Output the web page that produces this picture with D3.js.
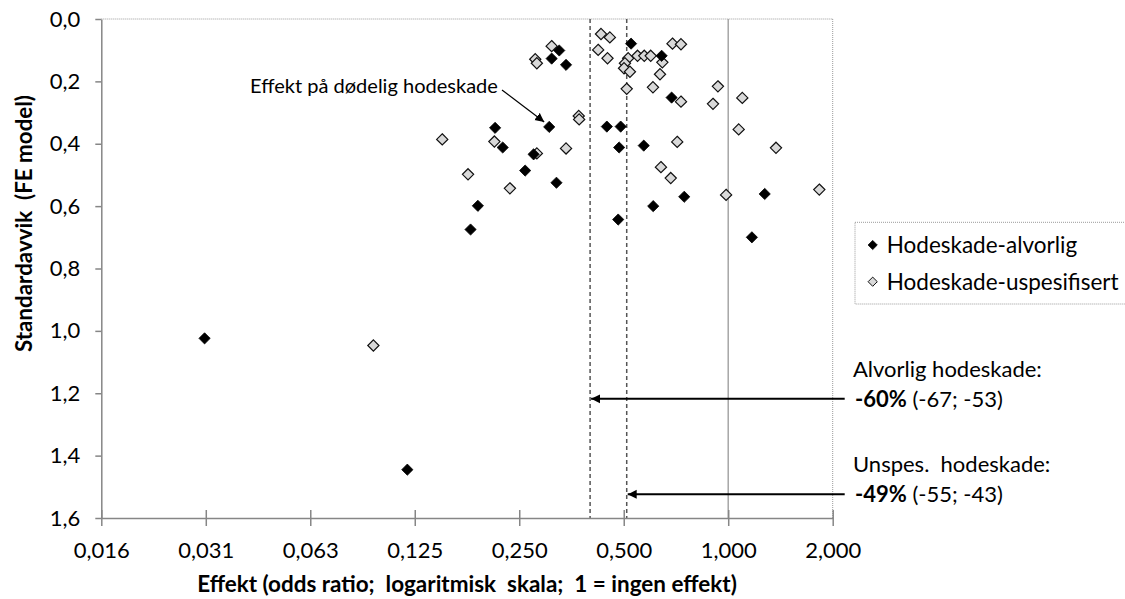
<!DOCTYPE html>
<html>
<head>
<meta charset="utf-8">
<script src="https://cdn.jsdelivr.net/npm/d3@7"></script>
<style>
  body { margin: 0; background: #fff; }
  text { font-family: Lato, "Open Sans", sans-serif; fill: #000; white-space: pre; }
</style>
</head>
<body>
<svg id="chart" width="1125" height="599"></svg>
<script>
// Funnel plot: odds ratio (log2 scale) against standard error, two injury categories.

// Hodeskade-alvorlig: odds ratio and standard error per study
const alvorligOR = [0.031, 0.119, 0.326, 0.310, 0.341, 0.213, 0.305, 0.224, 0.275, 0.260,
                    0.320, 0.190, 0.181, 0.525, 0.643, 0.687, 0.447, 0.490, 0.485, 0.571,
                    0.747, 1.274, 0.608, 0.482, 1.170];
const alvorligSE = [1.024, 1.445, 0.101, 0.127, 0.147, 0.349, 0.346, 0.412, 0.434, 0.486,
                    0.525, 0.599, 0.675, 0.079, 0.118, 0.252, 0.345, 0.345, 0.412, 0.406,
                    0.570, 0.561, 0.600, 0.643, 0.700];

// Hodeskade-uspesifisert: odds ratio and standard error per study
const uspesOR = [0.095, 0.310, 0.278, 0.281, 0.150, 0.212, 0.281, 0.341, 0.371, 0.372,
                 0.178, 0.235, 0.430, 0.456, 0.691, 0.731, 0.422, 0.449, 0.515, 0.504,
                 0.501, 0.521, 0.548, 0.573, 0.598, 0.646, 0.636, 0.510, 0.607, 0.934,
                 0.731, 0.904, 1.098, 1.072, 0.713, 1.373, 0.640, 0.683, 0.986, 1.830];
const uspesSE = [1.047, 0.087, 0.129, 0.142, 0.386, 0.393, 0.431, 0.415, 0.311, 0.322,
                 0.498, 0.543, 0.048, 0.059, 0.079, 0.081, 0.099, 0.126, 0.126, 0.142,
                 0.158, 0.169, 0.118, 0.118, 0.118, 0.139, 0.177, 0.224, 0.219, 0.216,
                 0.265, 0.272, 0.253, 0.354, 0.394, 0.413, 0.475, 0.510, 0.564, 0.547];

// Axis ticks
const xTickValues = [1/64, 1/32, 1/16, 1/8, 1/4, 1/2, 1, 2];
const xTickLabels = ["0,016", "0,031", "0,063", "0,125", "0,250", "0,500", "1,000", "2,000"];
const yTickValues = [0, 0.2, 0.4, 0.6, 0.8, 1.0, 1.2, 1.4, 1.6];
const yTickLabels = ["0,0", "0,2", "0,4", "0,6", "0,8", "1,0", "1,2", "1,4", "1,6"];

// Pooled estimates (odds ratio) and where their arrows sit on the SE axis
const pooledNames = ["Alvorlig hodeskade:", "Unspes.  hodeskade:"];
const pooledOR = [0.40, 0.51];
const pooledPct = ["-60%", "-49%"];
const pooledCI = [" (-67; -53)", " (-55; -43)"];
const pooledArrowSE = [1.218, 1.524];

const seriesNames = ["Hodeskade-alvorlig", "Hodeskade-uspesifisert"];

const svg = d3.select("#chart");
const W = 1125, H = 599;
svg.append("rect").attr("width", W).attr("height", H).attr("fill", "#fff");

const plot = { left: 101.3, right: 832.7, top: 19, bottom: 518 };

const x = d3.scaleLog().base(2).domain([1/64, 2]).range([plot.left, plot.right]);
const y = d3.scaleLinear().domain([0, 1.6]).range([plot.top, plot.bottom]);

// Scale a text element's font so its rendered run has the wanted width
function fitWidth(sel, width) {
  const node = sel.node();
  const size = parseFloat(sel.attr("font-size"));
  const len = node.getComputedTextLength();
  if (len > 0) sel.attr("font-size", (size * width / len).toFixed(2));
  return sel;
}

// Plot frame: dotted top and right edges
svg.append("line")
  .attr("x1", plot.left).attr("x2", plot.right).attr("y1", plot.top).attr("y2", plot.top)
  .attr("stroke", "#9a9a9a").attr("stroke-width", 1).attr("stroke-dasharray", "1,1");
svg.append("line")
  .attr("x1", plot.right).attr("x2", plot.right).attr("y1", plot.top).attr("y2", plot.bottom)
  .attr("stroke", "#9a9a9a").attr("stroke-width", 1).attr("stroke-dasharray", "1,1");

// Reference line at OR = 1 (no effect)
svg.append("line")
  .attr("x1", x(1)).attr("x2", x(1)).attr("y1", y(0)).attr("y2", y(1.6))
  .attr("stroke", "#a6a6a6").attr("stroke-width", 1.5);

// Pooled estimates as dashed vertical lines
svg.selectAll(".pooled").data(pooledOR).join("line")
  .attr("class", "pooled")
  .attr("x1", d => x(d)).attr("x2", d => x(d))
  .attr("y1", y(0)).attr("y2", y(1.6))
  .attr("stroke", "#555").attr("stroke-width", 1.5).attr("stroke-dasharray", "4,3");

// Axes
const xAxis = d3.axisBottom(x)
  .tickValues(xTickValues)
  .tickFormat((d, i) => xTickLabels[i])
  .tickSizeInner(8).tickSizeOuter(0).tickPadding(16);
const gx = svg.append("g").attr("transform", `translate(0,${plot.bottom})`).call(xAxis);
gx.selectAll(".tick line").attr("y1", -8).attr("y2", 8).attr("stroke", "#868686").attr("stroke-width", 1.5);
gx.select(".domain").attr("stroke", "#868686").attr("stroke-width", 1.5);
gx.selectAll(".tick text").attr("font-size", 22).attr("font-family", "Lato").attr("fill", "#000");

const yAxis = d3.axisLeft(y)
  .tickValues(yTickValues)
  .tickFormat((d, i) => yTickLabels[i])
  .tickSizeInner(6).tickSizeOuter(0).tickPadding(15);
const gy = svg.append("g").attr("transform", `translate(${plot.left},0)`).call(yAxis);
gy.selectAll(".tick line").attr("stroke", "#868686").attr("stroke-width", 1.5);
gy.select(".domain").attr("stroke", "#868686").attr("stroke-width", 1.5);
gy.selectAll(".tick text").attr("font-size", 22).attr("font-family", "Lato").attr("fill", "#000");

// Axis titles
const xTitle = svg.append("text")
  .attr("x", (plot.left + plot.right) / 2).attr("y", 592)
  .attr("text-anchor", "middle").attr("font-size", 22).attr("font-weight", "bold")
  .text("Effekt (odds ratio;  logaritmisk  skala;  1 = ingen effekt)");
fitWidth(xTitle, 540);
const yTitle = svg.append("text")
  .attr("transform", "translate(32,223.5) rotate(-90)")
  .attr("text-anchor", "middle").attr("font-size", 21).attr("font-weight", "bold")
  .text("Standardavvik  (FE model)");
fitWidth(yTitle, 257);

// Diamond marker
const diamond = r => `M0,${-r}L${r},0L0,${r}L${-r},0Z`;

const uspesPts = uspesOR.map((d, i) => ({ or: d, se: uspesSE[i] }));
const alvorligPts = alvorligOR.map((d, i) => ({ or: d, se: alvorligSE[i] }));

svg.append("g").selectAll("path").data(uspesPts).join("path")
  .attr("d", diamond(5.6))
  .attr("transform", d => `translate(${x(d.or)},${y(d.se)})`)
  .attr("fill", "#d9d9d9").attr("stroke", "#111").attr("stroke-width", 1.2);

svg.append("g").selectAll("path").data(alvorligPts).join("path")
  .attr("d", diamond(5.6))
  .attr("transform", d => `translate(${x(d.or)},${y(d.se)})`)
  .attr("fill", "#000").attr("stroke", "#000").attr("stroke-width", 0.8);

// Arrowhead definition
const defs = svg.append("defs");
defs.append("marker").attr("id", "head")
  .attr("viewBox", "0 0 10 10").attr("refX", 10).attr("refY", 5)
  .attr("markerWidth", 9).attr("markerHeight", 10).attr("markerUnits", "userSpaceOnUse")
  .attr("orient", "auto")
  .append("path").attr("d", "M0,0L10,5L0,10Z").attr("fill", "#000");

// Arrows from the pooled-estimate labels to the dashed lines
const arrowStartX = plot.right + 12;
svg.selectAll(".pArrow").data(pooledOR).join("line")
  .attr("class", "pArrow")
  .attr("x1", arrowStartX).attr("y1", (d, i) => y(pooledArrowSE[i]))
  .attr("x2", d => x(d) + 1).attr("y2", (d, i) => y(pooledArrowSE[i]))
  .attr("stroke", "#000").attr("stroke-width", 2)
  .attr("marker-end", "url(#head)");

// Pooled-estimate labels
const labelX = 855;
pooledNames.forEach((name, i) => {
  const yy = y(pooledArrowSE[i]);
  svg.append("text").attr("x", labelX - 2).attr("y", yy - 30).attr("dy", "0.35em")
    .attr("font-size", 22).text(name);
  const t = svg.append("text").attr("x", labelX).attr("y", yy).attr("dy", "0.35em").attr("font-size", 22);
  t.append("tspan").attr("font-weight", "bold").text(pooledPct[i]);
  t.append("tspan").text(pooledCI[i]);
});

// Callout for the fatal head injury study
const target = alvorligPts[6];
const tx = x(target.or), ty = y(target.se);
const callout = svg.append("text").attr("x", 250).attr("y", 86).attr("dy", "0.35em")
  .attr("font-size", 20).text("Effekt på dødelig hodeskade");
fitWidth(callout, 248);
svg.append("line")
  .attr("x1", 502).attr("y1", 90)
  .attr("x2", tx - 5).attr("y2", ty - 5)
  .attr("stroke", "#000").attr("stroke-width", 1.2)
  .attr("marker-end", "url(#head)");

// Legend
const legend = svg.append("g");
legend.append("rect")
  .attr("x", 855).attr("y", 222.3).attr("width", 290).attr("height", 81.7)
  .attr("fill", "#fff").attr("stroke", "#9a9a9a").attr("stroke-width", 1).attr("stroke-dasharray", "1,1");
const legendRows = [245, 281.7];
seriesNames.forEach((name, i) => {
  legend.append("path")
    .attr("d", diamond(4.6))
    .attr("transform", `translate(872.7,${legendRows[i]})`)
    .attr("fill", i === 0 ? "#000" : "#d9d9d9")
    .attr("stroke", i === 0 ? "#000" : "#111").attr("stroke-width", i === 0 ? 0.8 : 1);
  legend.append("text").attr("x", 886.7).attr("y", legendRows[i]).attr("dy", "0.35em")
    .attr("font-size", 22.5).text(name);
});
</script>
</body>
</html>
